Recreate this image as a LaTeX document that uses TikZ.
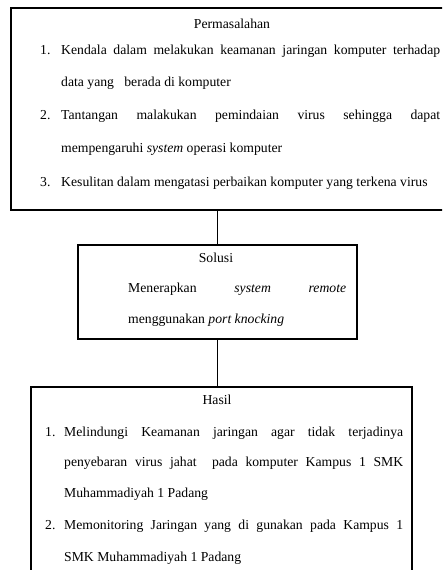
\documentclass[tikz,border=0pt]{standalone}
\usepackage{fontspec}
\setmainfont{Liberation Serif}
\begin{document}
\begin{tikzpicture}[x=1pt,y=-1pt,
  box/.style={draw,line width=1.5pt,rectangle,inner sep=0pt,anchor=north west},
  txt/.style={inner sep=0pt,anchor=base west,font=\fontsize{13.7}{16}\selectfont},
  ctr/.style={inner sep=0pt,anchor=base,font=\fontsize{13.7}{16}\selectfont},
  conn/.style={line width=1.5pt}]
\useasboundingbox (0,0) rectangle (442,570);
\clip (0,0) rectangle (442,570);
% boxes
\node[box,minimum width=470pt,minimum height=202pt] (top) at (10,7) {};
\node[box,minimum width=279pt,minimum height=94pt] (mid) at (77,244) {};
\node[box,minimum width=381pt,minimum height=230pt] (bot) at (30,386) {};
% connectors
\draw[conn] (mid.north) -- (mid.north |- top.south);
\draw[conn] (mid.south) -- (mid.south |- bot.north);
% top texts
\node[ctr] (t0) at (232,28) {Permasalahan};
\node[txt] (n1) at (40,54) {1.};
\node[txt] (t1) at (61,54) {\makebox[379pt][s]{Kendala dalam melakukan keamanan jaringan komputer terhadap}};
\node[txt] (t2) at (61,86) {data yang\ \ \ berada di komputer};
\node[txt] (n2) at (40,119) {2.};
\node[txt] (t3) at (61,119) {\makebox[379pt][s]{Tantangan malakukan pemindaian virus sehingga dapat}};
\node[txt] (t4) at (61,152) {mempengaruhi \textit{system} operasi komputer};
\node[txt] (n3) at (40,186) {3.};
\node[txt] (t5) at (61,186) {Kesulitan dalam mengatasi perbaikan komputer yang terkena virus};
% middle texts
\node[ctr] (m0) at (216,262) {Solusi};
\node[txt] (m1) at (128,292) {\makebox[218pt][s]{Menerapkan \textit{system} \textit{remote}}};
\node[txt] (m2) at (128,323) {menggunakan \textit{port knocking}};
% bottom texts
\node[ctr] (b0) at (217,404) {Hasil};
\node[txt] (bn1) at (45,436) {1.};
\node[txt] (b1) at (64,436) {\makebox[339pt][s]{Melindungi Keamanan jaringan agar tidak terjadinya}};
\node[txt] (b2) at (64,466) {\makebox[339pt][s]{penyebaran virus jahat\ \ pada komputer Kampus 1 SMK}};
\node[txt] (b3) at (64,497) {Muhammadiyah 1 Padang};
\node[txt] (bn2) at (45,529) {2.};
\node[txt] (b4) at (64,529) {\makebox[339pt][s]{Memonitoring Jaringan yang di gunakan pada Kampus 1}};
\node[txt] (b5) at (64,561) {SMK Muhammadiyah 1 Padang};
\end{tikzpicture}
\end{document}
